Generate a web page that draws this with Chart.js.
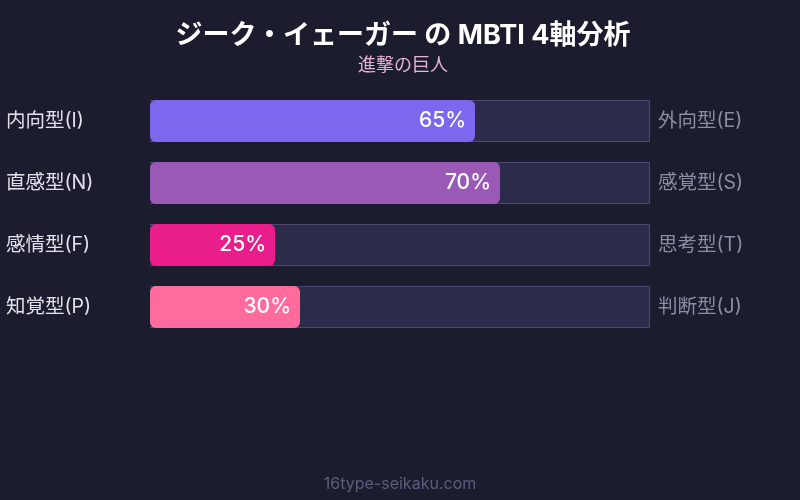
<!DOCTYPE html>
<html>
<head>
<meta charset="utf-8">
<script src="https://cdn.jsdelivr.net/npm/chart.js@4"></script>
<style>
  html, body { margin: 0; padding: 0; background: #1b1c2e; }
  #wrap { width: 800px; height: 500px; }
</style>
</head>
<body>
<div id="wrap"><canvas id="report"></canvas></div>
<script>
const leftLabels = ['内向型(I)', '直感型(N)', '感情型(F)', '知覚型(P)'];
const rightLabels = ['外向型(E)', '感覚型(S)', '思考型(T)', '判断型(J)'];
const scores = [65, 70, 25, 30];
const trackValues = [100, 100, 100, 100];
const barColors = ['#7b68ee', '#9b59b6', '#e91e8c', '#ff6b9d'];

const FONT = "Inter, 'Noto Sans CJK JP', sans-serif";

// ラベル（バーの中の％）とフッター
const valueLabels = {
    id: 'valueLabels',
    afterDatasetsDraw(chart) {
        const ctx = chart.ctx;
        const meta = chart.getDatasetMeta(0);
        ctx.save();
        ctx.font = '500 21px ' + FONT;
        ctx.fillStyle = '#ffffff';
        ctx.textAlign = 'right';
        ctx.textBaseline = 'middle';
        meta.data.forEach((bar, i) => {
            ctx.fillText(scores[i] + '%', bar.x - 9, bar.y);
        });
        ctx.font = '16px ' + FONT;
        ctx.fillStyle = '#5c5c7c';
        ctx.textAlign = 'center';
        ctx.fillText('16type-seikaku.com', chart.width / 2, 484);
        ctx.restore();
    }
};

const ctx = document.getElementById('report').getContext('2d');
const report_container = new Chart(ctx, {
    type: 'bar',
    data: {
        labels: leftLabels,
        datasets: [{
            data: scores,
            backgroundColor: barColors,
            borderRadius: 6,
            borderSkipped: false,
            yAxisID: 'y'
        }, {
            data: trackValues,
            backgroundColor: '#2d2b4a',
            borderColor: '#4a4870',
            borderWidth: 1,
            borderRadius: 0,
            yAxisID: 'y'
        }]
    },
    options: {
        indexAxis: 'y',
        responsive: true,
        maintainAspectRatio: false,
        animation: false,
        grouped: false,
        categoryPercentage: 1,
        barPercentage: 0.68,
        layout: {
            padding: { top: 20, bottom: 162, left: 6, right: 0 }
        },
        scales: {
            x: { display: false, min: 0, max: 100 },
            y: {
                position: 'left',
                grid: { display: false },
                border: { display: false },
                ticks: {
                    crossAlign: 'far',
                    color: '#e2e2ec',
                    font: { family: FONT, size: 19.5 }
                },
                afterFit: function (axis) { axis.width = 144; }
            },
            y2: {
                type: 'category',
                position: 'right',
                labels: rightLabels,
                offset: true,
                grid: { display: false, drawTicks: false },
                border: { display: false },
                ticks: {
                    crossAlign: 'near',
                    padding: 8,
                    color: '#8c8ca4',
                    font: { family: FONT, size: 19.5 }
                },
                afterFit: function (axis) { axis.width = 150; }
            }
        },
        plugins: {
            legend: { display: false },
            tooltip: { enabled: false },
            title: {
                display: true,
                text: 'ジーク・イェーガー の MBTI 4軸分析',
                color: '#ffffff',
                font: { family: FONT, size: 27, weight: 'bold' },
                padding: { top: 0, bottom: 2 }
            },
            subtitle: {
                display: true,
                text: '進撃の巨人',
                color: '#e6b3d9',
                font: { family: FONT, size: 18 },
                padding: { top: 0, bottom: 14 }
            }
        }
    },
    plugins: [valueLabels]
});
</script>
</body>
</html>
